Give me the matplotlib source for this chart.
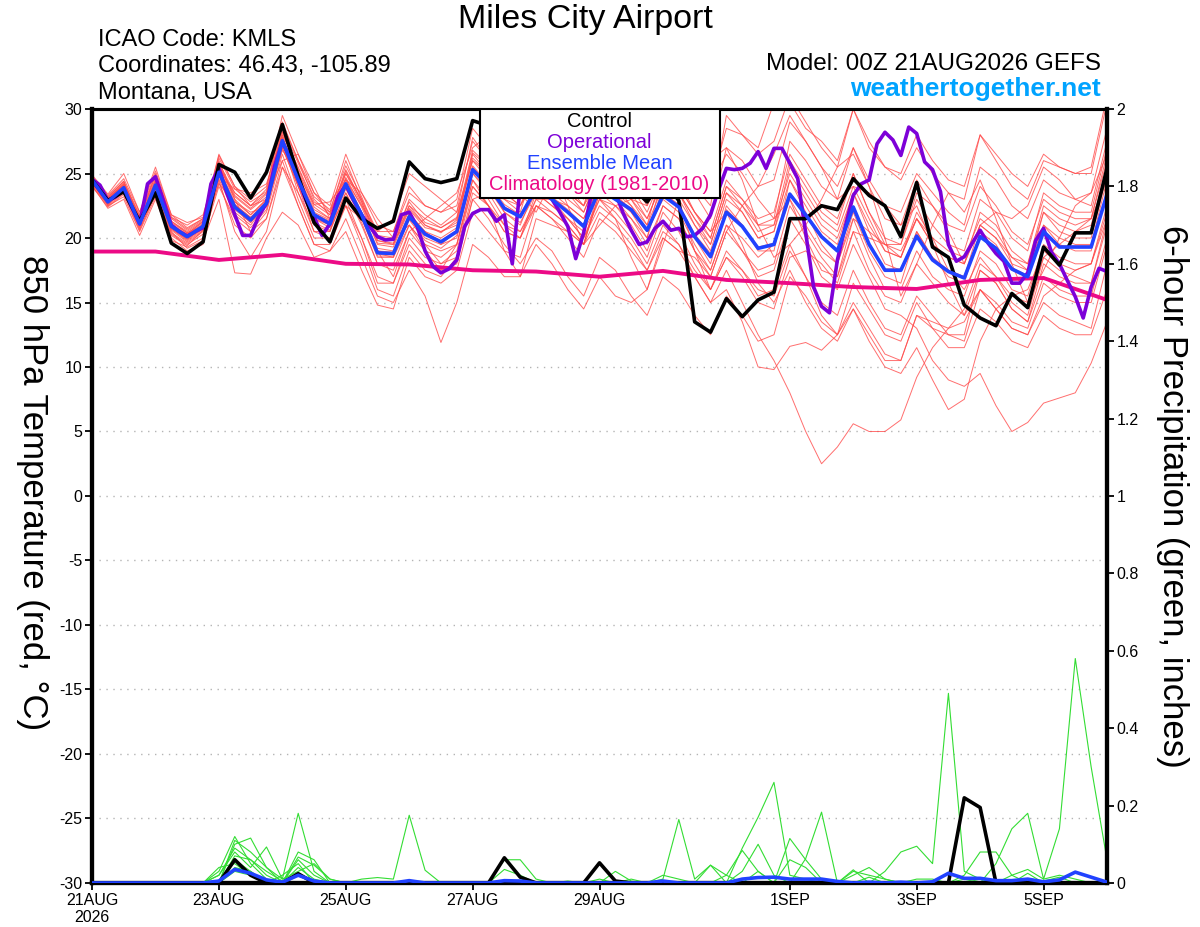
import numpy as np
import matplotlib
matplotlib.use("Agg")
import matplotlib.pyplot as plt
from matplotlib.patches import Rectangle

plt.rcParams['font.family'] = ['Liberation Sans', 'DejaVu Sans']
plt.rcParams['axes.unicode_minus'] = False

# ---- data: 6-hourly from 00Z 21AUG2026 (65 steps = 16 days) ----
control_temp = [24.5, 22.9, 23.6, 21.3, 23.5, 19.6, 18.8, 19.7, 25.7, 25.1,
                23.1, 25.1, 28.8, 24.8, 21.2, 19.7, 23.1, 21.5, 20.75, 21.3,
                25.9, 24.6, 24.3, 24.6, 29.1, 28.7, 27.5, 26.5, 26.0, 25.5,
                25.0, 25.5, 26.0, 25.0, 24.0, 22.8, 24.5, 22.9, 13.5, 12.7,
                15.3, 13.9, 15.2, 15.8, 21.5, 21.5, 22.5, 22.2, 24.6, 23.3,
                22.5, 20.1, 24.3, 19.3, 18.5, 14.8, 13.8, 13.2, 15.7, 14.6,
                19.3, 17.9, 20.4, 20.4, 25.4]

mean_temp = [24.5, 22.8, 23.9, 21.1, 24.1, 20.9, 20.1, 20.9, 25.1, 22.4,
             21.4, 22.7, 27.55, 24.5, 21.8, 21.1, 24.2, 21.8, 18.85, 18.8,
             21.65, 20.3, 19.7, 20.5, 25.3, 24.0, 22.3, 21.65, 23.8, 23.0,
             22.0, 20.9, 23.8, 23.0, 22.2, 20.6, 23.3, 22.4, 20.1, 18.55,
             22.0, 20.9, 19.2, 19.5, 23.4, 21.8, 20.1, 19.0, 22.4, 19.5,
             17.5, 17.5, 20.15, 18.3, 17.4, 16.9, 20.1, 19.2, 17.6, 17.0,
             20.5, 19.3, 19.3, 19.3, 23.4]

# operational run is 3-hourly (129 steps)
oper_temp = [24.55, 24.1, 22.9, 23.2, 23.8, 22.4, 21.1, 24.2, 24.75, 22.9,
             21.0, 20.5, 20.15, 20.5, 20.8, 24.2, 25.4, 23.5, 21.8, 20.2,
             20.2, 21.65, 22.7, 25.55, 27.45, 26.2, 24.6, 22.9, 21.65, 20.2,
             21.1, 23.2, 24.1, 22.9, 21.8, 20.9, 20.1, 19.85, 19.9, 21.8,
             22.0, 20.9, 19.0, 17.8, 17.3, 17.6, 18.3, 20.9, 21.9, 22.2,
             22.2, 21.3, 21.8, 18.0, 24.0, 25.5, 25.0, 24.0, 23.0, 22.0,
             20.9, 18.4, 20.4, 23.5, 24.5, 25.0, 23.5, 21.9, 20.6, 19.5,
             19.7, 20.75, 21.3, 20.6, 20.75, 20.1, 20.2, 20.75, 21.8, 23.7,
             25.4, 25.3, 25.4, 25.8, 26.7, 25.4, 26.95, 26.95, 25.8, 24.6,
             20.4, 16.2, 14.7, 14.2, 18.3, 20.9, 23.3, 24.2, 24.5, 27.3,
             28.2, 27.6, 26.4, 28.6, 28.1, 25.9, 25.3, 23.6, 19.5, 18.2,
             18.55, 19.6, 20.6, 19.6, 18.8, 18.2, 16.5, 16.5, 17.3, 19.8,
             20.75, 18.9, 18.0, 16.7, 15.45, 13.8, 16.2, 17.65, 17.4]

# climatology, one value per day at 00Z
clim_temp = [18.95, 18.95, 18.3, 18.7, 18.0, 17.95, 17.5, 17.4, 17.0,
             17.45, 16.75, 16.5, 16.2, 16.05, 16.75, 16.9, 15.2]

member_temps = [
    [24.3, 23.0, 24.2, 21.6, 24.6, 21.2, 20.4, 21.0, 25.6, 23.0, 21.8, 23.0, 28.2, 25.2, 22.4, 21.5,
     25.0, 22.6, 19.6, 19.5, 22.5, 21.0, 20.5, 21.0, 26.5, 25.0, 23.5, 22.5, 25.0, 24.0, 23.0, 22.0,
     25.0, 24.5, 23.5, 21.5, 24.5, 23.5, 21.5, 20.0, 24.0, 22.5, 20.5, 21.0, 26.0, 24.0, 22.0, 21.0,
     25.0, 22.0, 20.0, 19.5, 23.0, 21.0, 19.5, 19.0, 23.0, 22.0, 20.0, 19.0, 23.5, 22.5, 22.0, 22.0, 27.0],
    [24.8, 23.3, 24.6, 22.0, 25.2, 21.8, 20.8, 21.5, 26.4, 24.0, 22.5, 23.8, 29.5, 26.5, 23.5, 22.5,
     26.5, 23.5, 21.0, 20.5, 24.0, 22.5, 22.0, 23.0, 28.5, 27.0, 25.5, 24.5, 27.5, 26.0, 25.0, 23.5,
     27.0, 26.0, 24.5, 23.0, 27.0, 26.0, 24.0, 22.5, 29.5, 28.0, 26.5, 27.5, 31.0, 29.0, 27.0, 25.5,
     30.0, 27.0, 25.5, 25.0, 28.0, 26.0, 24.5, 24.0, 28.0, 26.5, 25.0, 24.0, 26.5, 25.5, 25.0, 25.5, 31.0],
    [24.0, 22.6, 23.6, 20.8, 23.8, 20.6, 19.7, 20.6, 24.6, 21.8, 20.8, 22.2, 27.0, 24.0, 21.2, 20.6,
     23.5, 21.2, 18.0, 17.5, 20.5, 19.0, 18.5, 19.5, 24.0, 22.5, 21.0, 20.0, 22.5, 21.5, 20.0, 18.5,
     21.5, 20.5, 19.0, 17.5, 20.0, 19.0, 17.0, 15.0, 17.5, 15.0, 12.5, 10.5, 8.0, 5.0, 2.5, 3.8,
     5.6, 5.0, 5.0, 5.9, 9.2, 11.5, 13.0, 13.5, 16.0, 14.5, 13.0, 12.5, 15.0, 14.0, 13.5, 13.0, 18.0],
    [24.6, 22.9, 23.8, 21.0, 24.2, 20.8, 19.9, 20.8, 25.3, 22.6, 21.6, 22.6, 27.8, 24.8, 22.0, 21.4,
     24.6, 22.0, 19.0, 18.8, 21.5, 20.0, 19.5, 20.0, 25.0, 23.5, 21.5, 20.5, 23.0, 22.0, 21.0, 19.5,
     23.5, 22.5, 21.0, 19.0, 22.5, 21.5, 19.0, 17.0, 20.5, 19.0, 17.0, 17.5, 21.5, 19.5, 17.0, 16.0,
     19.5, 17.0, 14.5, 14.0, 13.0, 10.5, 9.0, 8.5, 9.5, 7.0, 5.0, 5.7, 7.2, 7.6, 8.0, 10.3, 13.5],
    [24.4, 22.7, 24.0, 21.2, 24.0, 21.0, 20.2, 21.0, 25.0, 22.2, 21.2, 22.8, 27.2, 24.2, 21.6, 21.0,
     24.0, 21.5, 18.5, 18.5, 21.8, 20.5, 19.5, 20.5, 25.5, 24.0, 22.0, 21.0, 24.0, 23.0, 21.5, 20.0,
     23.0, 22.0, 20.5, 18.5, 22.0, 20.5, 18.0, 16.0, 19.0, 17.5, 15.5, 16.0, 19.5, 17.0, 14.0, 12.5,
     14.5, 12.0, 10.0, 9.5, 11.5, 9.0, 6.7, 7.5, 12.0, 14.5, 15.5, 16.0, 19.0, 18.0, 17.5, 18.0, 22.0],
    [24.5, 22.9, 23.9, 21.3, 24.3, 21.1, 20.3, 21.1, 25.4, 22.8, 21.8, 23.0, 27.6, 24.6, 21.8, 21.2,
     24.3, 21.9, 19.2, 19.0, 21.9, 20.5, 20.0, 20.8, 25.6, 24.2, 22.6, 21.8, 23.5, 22.5, 21.5, 20.0,
     22.5, 21.5, 20.0, 18.0, 21.0, 19.5, 17.0, 15.0, 16.0, 13.5, 10.0, 9.8, 11.6, 11.9, 11.3, 12.5,
     15.0, 13.0, 11.0, 10.5, 14.0, 13.5, 13.0, 14.5, 18.0, 17.0, 15.5, 15.0, 18.5, 17.5, 17.0, 16.5, 21.0],
    [24.2, 22.5, 23.5, 20.9, 23.6, 20.4, 19.6, 20.5, 24.5, 20.5, 18.5, 20.5, 25.5, 22.5, 19.5, 19.0,
     21.5, 18.5, 15.5, 15.0, 17.5, 15.5, 11.9, 15.0, 19.5, 18.5, 17.0, 17.0, 21.5, 21.0, 20.5, 19.5,
     24.0, 23.5, 22.0, 20.0, 25.0, 24.0, 22.0, 20.5, 24.5, 23.0, 21.5, 22.0, 26.5, 24.5, 22.5, 21.5,
     25.0, 22.0, 19.5, 19.0, 21.5, 19.5, 18.5, 18.0, 22.0, 21.0, 19.0, 18.0, 22.5, 21.5, 21.0, 21.5, 26.0],
    [24.6, 23.0, 24.2, 21.4, 23.8, 20.5, 19.2, 19.8, 23.0, 17.3, 17.2, 20.0, 22.0, 21.0, 18.5, 19.0,
     20.5, 17.5, 14.8, 14.5, 18.5, 17.0, 16.5, 17.5, 22.0, 20.5, 19.0, 18.5, 22.5, 22.0, 21.0, 19.5,
     22.0, 21.0, 19.5, 17.5, 20.5, 19.5, 17.5, 16.0, 18.5, 17.5, 16.0, 15.5, 19.0, 17.0, 15.0, 14.0,
     17.5, 15.0, 13.0, 12.5, 15.5, 14.0, 12.5, 12.0, 16.0, 15.0, 13.5, 13.0, 16.5, 15.5, 15.0, 15.0, 19.5],
    [24.9, 23.4, 25.0, 22.0, 25.5, 21.8, 21.2, 21.6, 26.5, 24.0, 23.0, 24.0, 29.0, 26.0, 23.5, 22.0,
     26.0, 23.0, 20.5, 20.5, 23.5, 22.5, 22.0, 22.5, 27.5, 26.0, 24.5, 23.5, 27.0, 25.5, 24.0, 22.5,
     26.5, 26.0, 24.5, 22.5, 26.0, 25.5, 23.5, 21.5, 27.0, 26.0, 24.0, 24.5, 29.0, 27.5, 25.5, 24.0,
     27.0, 24.5, 22.5, 22.0, 25.0, 23.5, 22.0, 21.0, 25.5, 24.5, 22.5, 21.5, 24.5, 23.5, 23.0, 23.5, 28.5],
    [24.1, 22.3, 23.0, 20.2, 23.0, 19.8, 19.3, 20.0, 24.0, 21.5, 20.5, 22.0, 26.5, 23.0, 20.0, 20.0,
     23.0, 20.0, 16.5, 16.5, 20.0, 18.5, 18.0, 19.0, 24.0, 22.5, 20.5, 20.0, 23.5, 23.0, 22.0, 21.0,
     24.5, 24.0, 23.0, 21.0, 24.0, 23.5, 21.0, 19.0, 23.0, 22.0, 20.0, 20.5, 25.5, 23.5, 21.5, 20.5,
     24.0, 21.5, 19.0, 18.5, 22.0, 20.0, 19.0, 18.5, 21.5, 20.5, 18.5, 17.5, 22.0, 20.5, 20.0, 20.0, 25.0],
    [24.7, 23.1, 24.3, 21.7, 24.8, 21.5, 20.6, 21.4, 25.8, 23.5, 22.5, 23.5, 28.0, 25.5, 22.8, 22.0,
     25.0, 23.0, 20.0, 19.8, 22.5, 21.5, 20.8, 21.5, 26.0, 25.0, 23.5, 22.5, 24.5, 23.5, 22.5, 21.5,
     24.0, 23.0, 22.0, 20.5, 23.0, 22.0, 19.5, 17.5, 21.0, 19.0, 17.5, 18.0, 22.5, 20.5, 18.5, 17.0,
     20.5, 17.5, 15.5, 15.0, 18.0, 16.5, 15.0, 14.0, 17.5, 16.5, 14.5, 13.5, 17.0, 16.0, 15.5, 15.5, 20.0],
    [24.3, 22.6, 23.7, 20.9, 24.0, 20.8, 20.0, 20.7, 25.0, 22.5, 21.5, 22.5, 27.0, 24.0, 21.5, 20.8,
     23.8, 21.5, 18.8, 18.5, 21.0, 19.5, 19.0, 19.5, 24.5, 23.0, 21.0, 20.5, 22.5, 21.5, 20.5, 19.5,
     23.5, 23.0, 21.5, 20.0, 24.0, 23.0, 21.0, 19.5, 23.5, 22.5, 21.0, 21.5, 27.5, 26.0, 24.0, 23.0,
     27.0, 24.0, 21.5, 21.0, 24.5, 22.5, 21.0, 20.5, 24.0, 22.5, 20.5, 19.5, 23.0, 22.0, 21.5, 21.5, 26.5],
    [24.5, 22.8, 23.9, 21.0, 24.2, 20.7, 19.9, 20.8, 25.2, 22.3, 21.2, 22.5, 27.5, 23.5, 20.5, 20.5,
     23.5, 21.0, 18.0, 18.0, 21.0, 19.5, 18.0, 18.5, 23.0, 21.5, 19.5, 18.0, 20.0, 19.0, 17.0, 15.5,
     18.5, 17.5, 15.5, 14.0, 17.0, 16.0, 14.0, 12.5, 15.5, 14.0, 12.0, 12.5, 17.0, 15.5, 13.5, 12.5,
     16.5, 14.5, 12.5, 12.0, 15.0, 13.0, 11.5, 11.5, 14.5, 13.5, 12.0, 11.5, 14.0, 13.0, 12.5, 12.5, 16.0],
    [24.6, 23.1, 24.1, 21.3, 24.4, 21.3, 20.5, 21.3, 25.6, 23.2, 22.2, 23.2, 28.6, 25.8, 23.2, 22.2,
     25.6, 23.2, 20.2, 20.0, 22.8, 21.2, 20.8, 21.6, 26.8, 25.6, 24.0, 23.0, 25.5, 24.5, 23.5, 22.5,
     25.5, 25.0, 24.0, 22.0, 25.0, 24.0, 22.0, 20.0, 24.0, 23.0, 21.0, 21.0, 25.0, 23.0, 21.0, 20.0,
     23.5, 21.0, 19.0, 18.5, 21.5, 19.5, 18.5, 18.0, 21.0, 20.0, 18.5, 18.0, 22.0, 21.0, 20.5, 21.0, 25.5],
    [24.4, 22.9, 24.0, 21.2, 24.1, 21.0, 20.2, 21.0, 25.3, 22.6, 21.6, 22.9, 27.8, 24.9, 22.2, 21.5,
     24.7, 22.4, 19.5, 19.3, 22.2, 20.8, 20.5, 21.2, 26.2, 25.0, 23.0, 22.5, 25.5, 25.0, 24.0, 23.0,
     26.0, 25.5, 24.5, 23.0, 27.0, 26.5, 25.0, 24.0, 28.5, 28.0, 27.0, 30.5, 30.5, 28.5, 27.5, 26.0,
     30.0, 27.5, 25.5, 24.5, 27.0, 25.0, 23.5, 23.0, 28.0, 26.0, 24.0, 23.0, 26.0, 25.5, 25.0, 25.0, 30.5],
    [24.2, 22.8, 23.7, 21.0, 23.9, 20.7, 19.8, 20.7, 24.8, 22.0, 21.0, 22.6, 27.3, 24.3, 21.5, 21.0,
     24.0, 21.6, 18.6, 18.6, 21.4, 19.8, 19.2, 20.2, 25.0, 23.8, 22.0, 21.2, 23.5, 22.5, 21.5, 20.5,
     23.0, 22.5, 21.5, 19.5, 22.5, 21.5, 19.0, 17.5, 21.0, 20.0, 18.5, 19.5, 23.0, 21.0, 19.0, 18.0,
     21.5, 18.5, 16.0, 16.0, 19.0, 17.0, 16.0, 15.5, 19.0, 18.0, 16.0, 15.5, 19.5, 18.5, 18.0, 18.0, 22.5],
    [24.8, 23.2, 24.4, 21.8, 25.0, 21.6, 20.7, 21.5, 26.2, 23.8, 22.8, 23.6, 28.8, 26.0, 23.0, 21.8,
     25.2, 22.8, 19.8, 19.6, 23.0, 21.8, 21.0, 22.0, 27.8, 26.0, 24.0, 23.0, 26.5, 25.0, 23.5, 22.0,
     25.0, 24.0, 22.5, 21.0, 25.5, 24.5, 22.0, 20.5, 22.0, 19.5, 16.5, 15.0, 17.5, 15.0, 13.0, 12.0,
     14.5, 12.5, 10.5, 10.5, 14.0, 13.0, 12.5, 12.5, 17.5, 16.5, 14.5, 13.5, 18.0, 17.0, 16.5, 16.5, 21.5],
    [24.0, 22.4, 23.4, 20.6, 23.5, 20.3, 19.5, 20.3, 24.3, 21.0, 20.0, 21.5, 26.0, 22.5, 19.5, 19.5,
     22.5, 19.5, 16.0, 15.5, 19.0, 17.5, 17.0, 18.5, 23.5, 22.5, 20.5, 20.0, 23.0, 23.0, 22.5, 21.5,
     24.5, 24.0, 23.0, 21.5, 24.5, 23.5, 21.5, 19.5, 23.5, 22.0, 20.0, 20.5, 24.5, 22.0, 19.5, 18.0,
     22.0, 19.0, 17.0, 16.5, 20.5, 18.5, 17.5, 17.0, 21.0, 20.0, 18.0, 17.5, 21.0, 20.0, 19.5, 19.5, 24.5],
    [24.6, 23.0, 24.1, 21.4, 24.5, 21.3, 20.4, 21.2, 25.7, 23.3, 22.3, 23.4, 28.3, 25.4, 22.6, 21.8,
     25.3, 22.8, 19.8, 19.5, 22.3, 21.0, 20.4, 21.4, 26.6, 25.5, 24.0, 23.0, 25.0, 24.5, 23.5, 22.5,
     24.5, 23.5, 22.5, 20.5, 23.5, 22.5, 20.0, 18.0, 22.5, 21.0, 19.0, 19.0, 24.5, 22.5, 20.5, 19.5,
     23.5, 20.5, 18.0, 17.5, 20.5, 18.5, 17.0, 16.5, 20.5, 19.5, 17.5, 17.0, 21.0, 19.5, 19.0, 19.0, 23.5],
    [24.3, 22.6, 23.8, 21.0, 24.0, 20.8, 20.1, 20.9, 25.1, 22.5, 21.5, 22.8, 27.6, 24.6, 21.9, 21.3,
     24.3, 21.9, 19.0, 18.9, 21.8, 20.4, 19.8, 20.6, 25.4, 24.2, 22.4, 21.8, 24.0, 23.2, 22.2, 21.0,
     24.0, 23.2, 22.3, 20.6, 23.5, 22.6, 20.3, 18.8, 22.2, 21.0, 19.3, 19.6, 23.5, 21.9, 20.2, 19.1,
     22.5, 19.6, 17.6, 17.6, 20.3, 18.4, 17.5, 17.0, 20.2, 19.3, 17.7, 17.1, 20.6, 19.4, 19.4, 19.4, 23.5],
    [24.2, 22.9, 23.7, 21.2, 24.3, 21.0, 20.3, 21.3, 25.4, 23.5, 22.5, 23.0, 26.0, 26.5, 24.0, 21.5,
     22.5, 21.5, 19.0, 17.0, 20.5, 21.5, 22.5, 23.5, 27.0, 28.0, 26.0, 23.5, 22.0, 24.5, 26.5, 25.0,
     23.0, 21.5, 18.5, 16.0, 19.5, 23.0, 24.5, 26.0, 27.0, 24.5, 21.0, 18.5, 19.5, 21.0, 23.0, 25.5,
     26.5, 24.0, 20.0, 15.5, 18.0, 21.0, 23.5, 22.0, 24.5, 21.5, 18.0, 15.0, 17.5, 20.0, 22.5, 23.5, 26.5],
    [24.6, 22.7, 23.6, 20.7, 23.4, 20.2, 19.4, 20.6, 24.2, 22.8, 22.0, 22.4, 26.8, 25.0, 22.6, 22.8,
     24.5, 23.5, 21.5, 20.0, 21.0, 19.0, 17.5, 19.5, 24.5, 22.5, 19.0, 17.0, 19.5, 18.0, 16.0, 14.5,
     17.0, 15.5, 15.0, 16.0, 20.0, 19.0, 18.5, 17.0, 20.5, 22.5, 24.0, 26.5, 29.5, 27.5, 25.5, 23.0,
     24.0, 23.5, 22.5, 21.0, 22.5, 19.5, 16.5, 14.0, 16.0, 14.5, 13.0, 12.5, 15.5, 16.5, 17.5, 18.0, 21.5],
    [24.4, 23.2, 24.4, 21.5, 24.9, 21.6, 21.0, 21.8, 26.0, 23.0, 20.5, 21.5, 25.5, 23.5, 21.0, 20.5,
     24.5, 22.5, 20.5, 21.5, 25.0, 24.0, 23.0, 22.0, 26.0, 24.5, 23.5, 24.0, 27.0, 25.5, 22.5, 19.5,
     21.0, 22.5, 23.0, 22.5, 25.0, 23.0, 19.0, 16.0, 18.5, 17.0, 15.0, 14.5, 18.5, 19.0, 18.0, 16.5,
     20.5, 20.0, 19.5, 19.5, 23.5, 22.5, 20.5, 18.0, 21.0, 22.0, 21.5, 22.5, 25.5, 24.5, 23.0, 22.5, 27.5],
    [24.7, 22.5, 23.2, 20.5, 23.2, 20.0, 19.0, 19.5, 24.8, 23.8, 23.5, 24.2, 28.0, 24.0, 20.5, 20.0,
     22.5, 20.0, 17.0, 16.5, 19.5, 18.0, 17.5, 18.0, 23.0, 23.5, 23.0, 22.0, 26.0, 26.5, 25.0, 23.5,
     25.5, 25.5, 24.5, 23.5, 27.5, 26.5, 25.5, 24.0, 26.5, 25.0, 23.0, 21.5, 23.0, 20.0, 17.5, 17.0,
     21.5, 20.5, 19.5, 18.5, 21.5, 20.0, 17.5, 16.0, 18.5, 17.0, 15.0, 14.0, 18.5, 19.5, 20.5, 21.5, 24.5],
]

# 6-hour precipitation (inches), non-zero steps only
control_precip = {9: 0.06, 10: 0.02, 13: 0.024, 26: 0.065, 27: 0.015,
                  32: 0.052, 33: 0.005, 55: 0.22, 56: 0.195}
mean_precip = {8: 0.005, 9: 0.035, 10: 0.025, 11: 0.008, 12: 0.002, 13: 0.02,
               14: 0.005, 20: 0.006, 26: 0.006, 27: 0.005, 36: 0.005, 41: 0.01,
               42: 0.014, 43: 0.015, 44: 0.01, 45: 0.01, 46: 0.01, 47: 0.004,
               49: 0.002, 51: 0.002, 53: 0.003, 54: 0.025, 55: 0.012, 56: 0.012,
               57: 0.006, 58: 0.006, 59: 0.01, 60: 0.003, 61: 0.008, 62: 0.028,
               63: 0.015, 64: 0.002}
member_precip = [
    {8: 0.03, 9: 0.12, 10: 0.05, 11: 0.01, 13: 0.06, 14: 0.02},
    {9: 0.10, 10: 0.116, 11: 0.04, 12: 0.01, 13: 0.03, 14: 0.05, 15: 0.01},
    {8: 0.02, 9: 0.08, 10: 0.04, 11: 0.093, 12: 0.01, 13: 0.18, 14: 0.03},
    {9: 0.06, 10: 0.03, 13: 0.067, 14: 0.046, 15: 0.01},
    {8: 0.04, 9: 0.05, 10: 0.02, 13: 0.04, 14: 0.01, 17: 0.01, 18: 0.014, 19: 0.01, 20: 0.175, 21: 0.033},
    {9: 0.07, 10: 0.06, 11: 0.02, 26: 0.06, 27: 0.06, 28: 0.01, 30: 0.005},
    {9: 0.04, 10: 0.03, 12: 0.02, 13: 0.05, 26: 0.035, 27: 0.02, 33: 0.03, 34: 0.005},
    {9: 0.03, 10: 0.02, 36: 0.01, 37: 0.164, 38: 0.01, 39: 0.046},
    {41: 0.09, 42: 0.17, 43: 0.26, 44: 0.02, 45: 0.01},
    {40: 0.02, 41: 0.084, 42: 0.03, 44: 0.115, 45: 0.06, 46: 0.01},
    {41: 0.03, 42: 0.10, 43: 0.02, 45: 0.063, 46: 0.183, 48: 0.034},
    {36: 0.02, 37: 0.01, 39: 0.046, 40: 0.02, 42: 0.03, 44: 0.06, 45: 0.04},
    {50: 0.03, 51: 0.08, 52: 0.095, 53: 0.05, 54: 0.49, 55: 0.03, 56: 0.01},
    {48: 0.03, 49: 0.02, 50: 0.01, 55: 0.02, 56: 0.08, 57: 0.08, 58: 0.02},
    {57: 0.05, 58: 0.14, 59: 0.18, 60: 0.01, 61: 0.14, 62: 0.58, 63: 0.3, 64: 0.06},
    {52: 0.01, 53: 0.01, 55: 0.01, 58: 0.02, 59: 0.035, 60: 0.01, 61: 0.02, 62: 0.01},
    {32: 0.01, 34: 0.01, 49: 0.015, 56: 0.01, 59: 0.025},
    {8: 0.02, 9: 0.09, 10: 0.06, 11: 0.03, 12: 0.005},
    {9: 0.11, 10: 0.08, 11: 0.04, 13: 0.08, 14: 0.06},
    {48: 0.02, 49: 0.04, 50: 0.01, 60: 0.005, 61: 0.015},
]

tick_days = [0, 2, 4, 6, 8, 11, 13, 15]
tick_labels = ['21AUG\n2026', '23AUG', '25AUG', '27AUG', '29AUG', '1SEP', '3SEP', '5SEP']

N = 65


def dense(sparse):
    arr = np.zeros(N)
    for k, v in sparse.items():
        arr[k] = v
    return arr


x6 = np.arange(N) / 4.0
x3 = np.arange(len(oper_temp)) / 8.0
xd = np.arange(len(clim_temp))

fig = plt.figure(figsize=(12, 9.27), dpi=100)
ax = fig.add_axes([0.0767, 0.0475, 0.8458, 0.8349])

for v in range(-25, 30, 5):
    ax.axhline(v, color='#b4b4b4', lw=1.0, ls=(0, (1, 4)), zorder=1)

for m in member_temps:
    ax.plot(x6, m, color='#ff4a4a', lw=0.7, alpha=0.8, zorder=2)
ax.plot(xd, clim_temp, color='#ec0a86', lw=2.8, zorder=4)
ax.plot(x3, oper_temp, color='#7d00d8', lw=2.6, zorder=5)
ax.plot(x6, control_temp, color='black', lw=2.6, zorder=6)
ax.plot(x6, mean_temp, color='#2142ff', lw=2.6, zorder=7)

ax.set_xlim(0, 16)
ax.set_ylim(-30, 30)
ax.set_yticks(range(-30, 31, 5))
ax.set_xticks(tick_days)
ax.set_xticklabels(tick_labels)
ax.tick_params(direction='out', length=5, width=1.3, labelsize=11.5, pad=2)

ax2 = ax.twinx()
for p in member_precip:
    ax2.plot(x6, dense(p), color='#33dd33', lw=0.8, zorder=2)
ax2.plot(x6, dense(control_precip), color='black', lw=2.6, zorder=3)
ax2.plot(x6, dense(mean_precip), color='#2142ff', lw=2.6, zorder=4)
ax2.set_ylim(0, 2)
ticks2 = np.round(np.arange(0, 2.01, 0.2), 1)
ax2.set_yticks(ticks2)
ax2.set_yticklabels(['%g' % t for t in ticks2])
ax2.tick_params(direction='out', length=5, width=1.3, labelsize=11.5, pad=2)

for a in (ax, ax2):
    a.spines['left'].set_linewidth(3)
    a.spines['right'].set_linewidth(3)
    a.spines['bottom'].set_linewidth(3)
    a.spines['top'].set_linewidth(2.2)

# legend box
ax2.add_patch(Rectangle((0.382, 0.885), 0.237, 0.115, transform=ax2.transAxes,
                        facecolor='white', edgecolor='black', lw=1.5, zorder=10))
legend_items = [('Control', 'black'), ('Operational', '#7d00d8'),
                ('Ensemble Mean', '#2142ff'), ('Climatology (1981-2010)', '#ec0a86')]
for k, (txt, col) in enumerate(legend_items):
    ax2.text(0.5, 0.9845 - k * 0.0275, txt, color=col, fontsize=14.5,
             ha='center', va='center', transform=ax2.transAxes, zorder=11)

# header texts
fig.text(0.488, 0.979, 'Miles City Airport', fontsize=24.5, ha='center', va='center')
fig.text(0.0817, 0.957, 'ICAO Code: KMLS', fontsize=17, ha='left', va='center')
fig.text(0.0817, 0.929, 'Coordinates: 46.43, -105.89', fontsize=17, ha='left', va='center')
fig.text(0.0817, 0.900, 'Montana, USA', fontsize=17, ha='left', va='center')
fig.text(0.9175, 0.931, 'Model: 00Z 21AUG2026 GEFS', fontsize=17.5, ha='right', va='center')
fig.text(0.9175, 0.904, 'weathertogether.net', fontsize=19, fontweight='bold',
         color='#00a3ff', ha='right', va='center')

fig.text(0.027, 0.469, '850 hPa Temperature (red, °C)', fontsize=25,
         rotation=270, ha='center', va='center')
fig.text(0.977, 0.465, '6-hour Precipitation (green, inches)', fontsize=25,
         rotation=270, ha='center', va='center')

fig.savefig('out.png', dpi=100)
